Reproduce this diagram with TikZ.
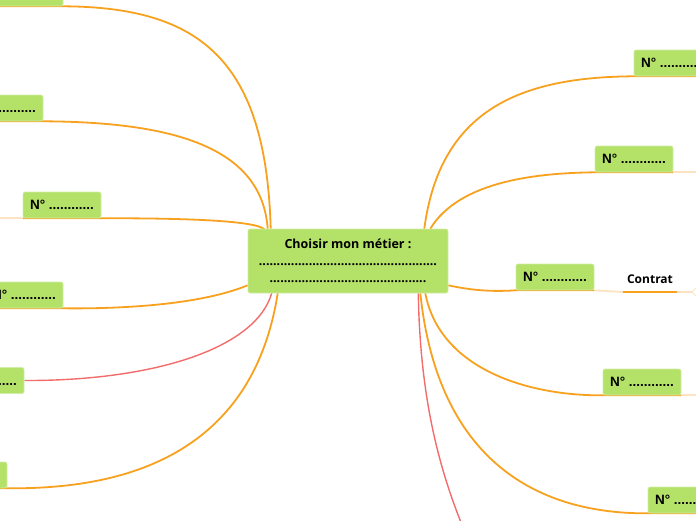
\documentclass[tikz,border=0pt]{standalone}
\usepackage{fontspec}
\setmainfont{Open Sans}
\newfontfamily\numfont{Liberation Sans}
\usetikzlibrary{calc, backgrounds}
\definecolor{cgreen}{HTML}{B4E168}
\definecolor{cedge}{HTML}{D2EEA6}
\definecolor{corange}{HTML}{F8A11E}
\definecolor{clight}{HTML}{FCE3C2}
\definecolor{cred}{HTML}{F36C6C}
\tikzset{
  every picture/.style={line cap=round},
  topic/.style={fill=cgreen, draw=cedge, line width=0.6pt, rounded corners=2pt, align=center,
    font=\bfseries\fontsize{12.5}{17}\selectfont, minimum width=200pt, minimum height=64pt, inner sep=2pt},
  sub/.style={fill=cgreen, draw=cedge, line width=0.6pt, rounded corners=2pt,
    font=\numfont\bfseries\fontsize{13.5}{15}\selectfont, minimum width=78pt, minimum height=26pt, inner sep=0pt},
  leaf/.style={font=\bfseries\fontsize{12}{14}\selectfont, inner sep=0pt},
  branch/.style={draw=corange, line width=1.8pt},
  redbranch/.style={draw=cred, line width=1.4pt},
  faded/.style={draw=clight, line width=1.8pt},
}
\newcommand{\numdots}{N° ............}
\begin{document}
\begin{tikzpicture}[x=1pt,y=-1pt]
  \clip (0,0) rectangle (696,520);
  % centre
  \node[topic] (c) at (348,261) {Choisir mon métier :\\
    ..................................................\\
    ............................................};
  % left side
  \node[sub] (l1) at (24,-7) {\numdots};
  \node[sub] (l2) at (4,108) {\numdots};
  \node[sub] (l3) at (62,205) {\numdots};
  \node[sub] (l4) at (24,295) {\numdots};
  \node[sub] (l5) at (-15,380.5) {\numdots};
  \node[sub] (l6) at (-32,475) {\numdots};
  % right side
  \node[sub] (r1) at (673,63) {\numdots};
  \node[sub] (r2) at (634,159) {\numdots};
  \node[sub] (r3) at (555,277) {\numdots};
  \node[sub] (r4) at (642,382) {\numdots};
  \node[sub] (r5) at (687,500) {\numdots};
  \node[leaf] (ct) at (650,279) {Contrat};
  \coordinate (cte) at (692,292);
  \coordinate (down) at (462,525);

  \begin{scope}[on background layer]
  \draw[branch] ($(c.north west)+(23,0)$) .. controls (266,60) and (200,7) .. (l1.south east) -- (l1.south west);
  \draw[branch] ($(c.north west)+(20,0)$) .. controls (262,150) and (180,122) .. (l2.south east) -- (l2.south west);
  \draw[branch] ($(c.north west)+(17,1)$) .. controls (258,221) and (190,218) .. (l3.south east) -- (l3.south west);
  \draw[faded] (l3.south west) -- ++(-30,0);
  \draw[branch] ($(c.south west)+(0,-8)$) .. controls (200,305) and (120,309) .. (l4.south east) -- (l4.south west);
  \draw[redbranch] ($(c.south west)+(24,0)$) .. controls (255,350) and (150,381) .. (l5.east);
  \draw[branch] ($(c.south west)+(30,0)$) .. controls (250,470) and (100,489) .. (l6.south east) -- (l6.south west);

  \draw[branch] ($(c.north east)+(-24,0)$) .. controls (440,110) and (520,77) .. (r1.south west) -- (r1.south east);
  \draw[branch] ($(c.north east)+(-18,0)$) .. controls (460,180) and (540,173) .. (r2.south west) -- (r2.south east);
  \draw[faded] (r2.south east) -- ++(30,0);
  \draw[branch] ($(c.south east)+(0,-8)$) .. controls (470,290) and (490,292) .. (r3.south west) -- (r3.south east);
  \draw[faded] (r3.south east) -- ($(ct.south west |- cte)+(-4,0)$);
  \draw[branch] ($(ct.south west |- cte)+(-4,0)$) -- ($(ct.south east |- cte)+(4,0)$);
  \draw[faded] ($(ct.south east |- cte)+(4,0)$) -- (cte);
  \draw[clight, line width=0.8pt] ($(cte)+(6,-6)$) -- (cte) -- ($(cte)+(6,6)$);
  \draw[branch] ($(c.south east)+(-23,0)$) .. controls (440,370) and (530,396) .. (r4.south west) -- (r4.south east);
  \draw[faded] (r4.south east) -- ++(30,0);
  \draw[branch] ($(c.south east)+(-28,0)$) .. controls (440,480) and (560,514) .. (r5.south west) -- (r5.south east);
  \draw[redbranch] ($(c.south east)+(-30,0)$) .. controls (420,400) and (440,470) .. (down);
  \end{scope}
\end{tikzpicture}
\end{document}
